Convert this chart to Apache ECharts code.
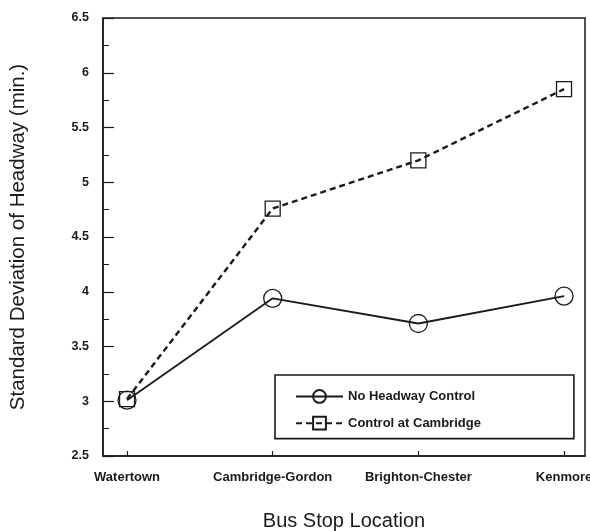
<!DOCTYPE html>
<html>
<head>
<meta charset="utf-8">
<script src="https://cdn.jsdelivr.net/npm/echarts@6/dist/echarts.min.js"></script>
<style>
html,body{margin:0;padding:0;background:#fff;}
#c{width:590px;height:531px;}
</style>
</head>
<body>
<div id="c"></div>
<script>
var categories = ['Watertown', 'Cambridge-Gordon', 'Brighton-Chester', 'Kenmore'];
var noControl = [3.01, 3.94, 3.71, 3.96];
var controlCambridge = [3.02, 4.76, 5.20, 5.85];
var seriesNames = ['No Headway Control', 'Control at Cambridge'];
var yTicks = [2.5, 3, 3.5, 4, 4.5, 5, 5.5, 6, 6.5];

var catIdx = categories.map(function (c, i) { return i; });
function pairs(arr) { return arr.map(function (v, i) { return [i, v]; }); }

var ink = '#1a1a1a';
var font = '"Liberation Sans", Arial, sans-serif';

var chart = echarts.init(document.getElementById('c'), null, {renderer: 'canvas'});
chart.setOption({
  animation: false,
  backgroundColor: '#fff',
  grid: {
    left: 103, right: 5, top: 18, bottom: 75,
    containLabel: false,
    outerBoundsMode: 'none',
    show: true, borderColor: ink, borderWidth: 1.5, backgroundColor: 'transparent'
  },
  xAxis: {
    type: 'value',
    min: -0.165, max: 3.144,
    name: 'Bus Stop Location',
    nameLocation: 'middle',
    nameGap: 55,
    nameTextStyle: {fontFamily: font, fontSize: 20, color: ink},
    axisLine: {show: true, onZero: false, lineStyle: {color: ink, width: 1.5}},
    axisTick: {show: true, inside: true, length: 5, customValues: catIdx, lineStyle: {color: ink, width: 1.2}},
    axisLabel: {
      customValues: catIdx,
      margin: 15,
      hideOverlap: false,
      fontFamily: font, fontWeight: 'bold', fontSize: 13, color: ink,
      formatter: function (v) { return categories[Math.round(v)] || ''; }
    },
    splitLine: {show: false}
  },
  yAxis: {
    type: 'value',
    min: yTicks[0], max: yTicks[yTicks.length - 1], interval: 0.5,
    name: 'Standard Deviation of Headway (min.)',
    nameLocation: 'middle',
    nameGap: 74,
    nameTextStyle: {fontFamily: font, fontSize: 20.5, color: ink},
    axisLine: {show: true, onZero: false, lineStyle: {color: ink, width: 1.5}},
    axisTick: {show: true, inside: true, length: 11, lineStyle: {color: ink, width: 1.2}},
    minorTick: {show: true, splitNumber: 2, length: 6, lineStyle: {color: ink, width: 1}},
    axisLabel: {
      margin: 14,
      fontFamily: font, fontWeight: 'bold', fontSize: 12.5, color: ink,
      formatter: function (v) { return String(v); }
    },
    splitLine: {show: false},
    minorSplitLine: {show: false}
  },
  legend: {
    orient: 'vertical',
    left: 275, top: 375,
    itemWidth: 47, itemHeight: 16, itemGap: 12,
    padding: [14, 93, 8, 20],
    borderColor: ink, borderWidth: 1.6,
    backgroundColor: '#fff',
    textStyle: {fontFamily: font, fontWeight: 'bold', fontSize: 13, color: ink},
    data: seriesNames
  },
  series: [
    {
      name: seriesNames[0],
      type: 'line',
      data: pairs(noControl),
      symbol: 'circle',
      symbolSize: 18,
      showAllSymbol: true,
      lineStyle: {color: ink, width: 1.8, type: 'solid'},
      itemStyle: {color: 'rgba(255,255,255,0)', borderColor: ink, borderWidth: 1.3}
    },
    {
      name: seriesNames[1],
      type: 'line',
      data: pairs(controlCambridge),
      symbol: 'rect',
      symbolSize: 15,
      showAllSymbol: true,
      lineStyle: {color: ink, width: 2.4, type: [6, 4]},
      itemStyle: {color: 'rgba(255,255,255,0)', borderColor: ink, borderWidth: 1.3}
    }
  ]
});
</script>
</body>
</html>
